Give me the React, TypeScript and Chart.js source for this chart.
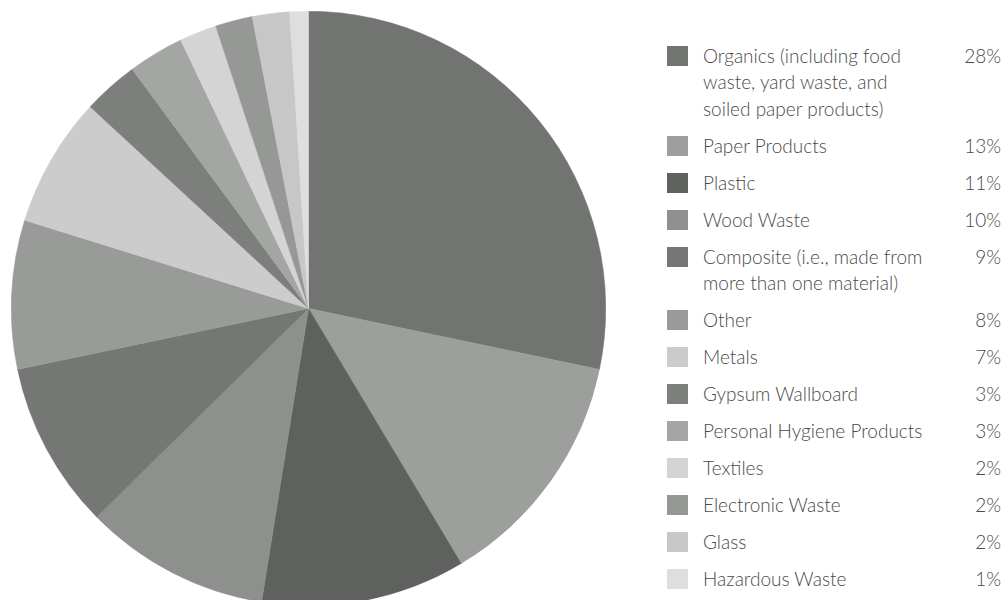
import React, { useEffect, useRef } from "react";
import { Chart, registerables } from "chart.js";

Chart.register(...registerables);

const categories: string[][] = [
  ["Organics (including food", "waste, yard waste, and", "soiled paper products)"],
  ["Paper Products"],
  ["Plastic"],
  ["Wood Waste"],
  ["Composite (i.e., made from", "more than one material)"],
  ["Other"],
  ["Metals"],
  ["Gypsum Wallboard"],
  ["Personal Hygiene Products"],
  ["Textiles"],
  ["Electronic Waste"],
  ["Glass"],
  ["Hazardous Waste"],
];

const shares: number[] = [28, 13, 11, 10, 9, 8, 7, 3, 3, 2, 2, 2, 1];

const percentLabels: string[] = shares.map((v) => `${v}%`);

const colors: string[] = [
  "#717471",
  "#9d9f9d",
  "#5e615e",
  "#8e908e",
  "#747774",
  "#999b99",
  "#cbcccb",
  "#7d7f7d",
  "#a4a6a4",
  "#d3d4d3",
  "#969896",
  "#c6c7c6",
  "#dddedd",
];

const FONT = "Lato, 'Open Sans', sans-serif";

export default function App() {
  const canvasRef = useRef<HTMLCanvasElement | null>(null);

  useEffect(() => {
    if (!canvasRef.current) return;
    const chart = new Chart(canvasRef.current, {
      type: "pie",
      data: {
        labels: categories,
        datasets: [
          {
            data: shares,
            backgroundColor: colors,
            borderColor: colors,
            borderWidth: 0.5,
          },
        ],
      },
      options: {
        responsive: false,
        animation: false,
        devicePixelRatio: 1,
        layout: { padding: 0 },
        plugins: {
          legend: { display: false },
          tooltip: { enabled: false },
        },
        events: [],
      },
    });
    return () => chart.destroy();
  }, []);

  return (
    <div
      style={{
        position: "absolute",
        left: 0,
        top: 0,
        width: 1008,
        height: 600,
        overflow: "hidden",
        background: "#ffffff",
        fontFamily: FONT,
      }}
    >
      <div style={{ position: "absolute", left: 11, top: 11, width: 595, height: 595 }}>
        <canvas ref={canvasRef} width={595} height={595} style={{ width: 595, height: 595 }} />
      </div>
      <div
        style={{
          position: "absolute",
          left: 667,
          top: 42.75,
          width: 336,
          display: "flex",
          flexDirection: "column",
        }}
      >
        {categories.map((lines, i) => (
          <div
            key={i}
            style={{
              position: "relative",
              marginBottom: 10.5,
              fontSize: 19,
              lineHeight: "26.5px",
              color: "#4a4a4a",
              fontWeight: 300,
            }}
          >
            <div
              style={{
                position: "absolute",
                left: 0,
                top: 3,
                width: 21,
                height: 20,
                background: colors[i],
              }}
            />
            <div style={{ marginLeft: 36 }}>
              {lines.map((l, j) => (
                <div key={j} style={{ whiteSpace: "nowrap" }}>
                  {l}
                </div>
              ))}
            </div>
            <div style={{ position: "absolute", right: 2, top: 0 }}>{percentLabels[i]}</div>
          </div>
        ))}
      </div>
    </div>
  );
}
